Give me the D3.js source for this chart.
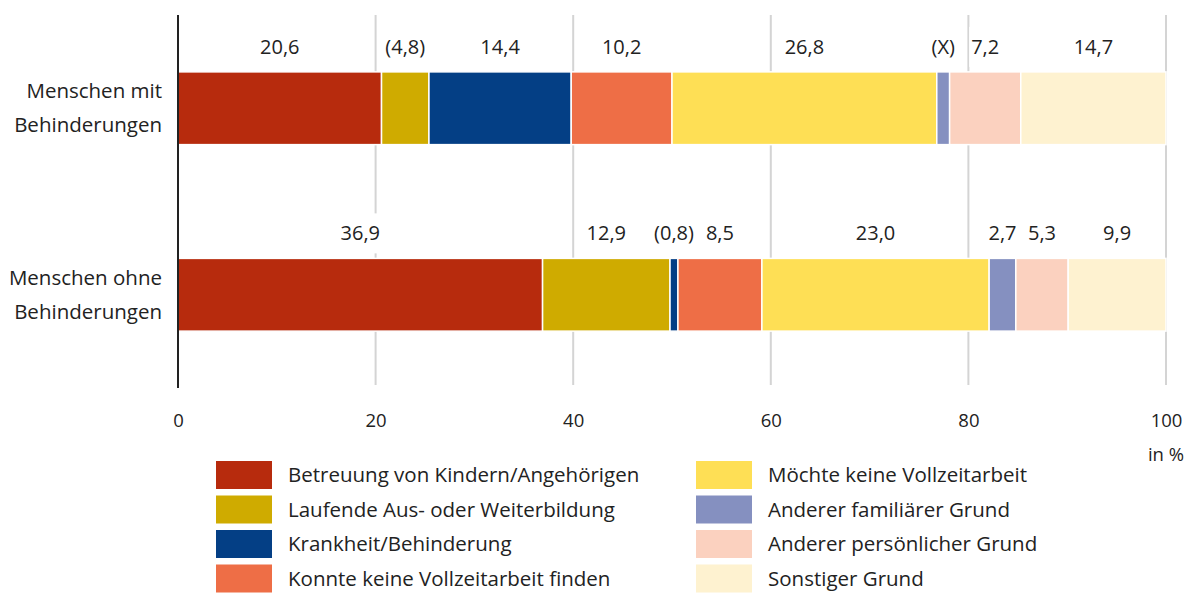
<!DOCTYPE html>
<html>
<head>
<meta charset="utf-8">
<script src="https://cdn.jsdelivr.net/npm/d3@7"></script>
<style>
  body { margin: 0; background: #fff; }
  svg text { font-family: "Open Sans", sans-serif; fill: #222; }
</style>
</head>
<body>
<svg id="chart" width="1187" height="593"></svg>
<script>
const groups = ["Menschen mit\nBehinderungen", "Menschen ohne\nBehinderungen"];
const categories = [
  "Betreuung von Kindern/Angehörigen",
  "Laufende Aus- oder Weiterbildung",
  "Krankheit/Behinderung",
  "Konnte keine Vollzeitarbeit finden",
  "Möchte keine Vollzeitarbeit",
  "Anderer familiärer Grund",
  "Anderer persönlicher Grund",
  "Sonstiger Grund",
];
const colors = ["#b72b0d", "#cfab00", "#043f85", "#ee6e46", "#fedf55", "#8590c0", "#fbd1bf", "#fef2d0"];

// values in %, second list holds the printed labels
const valuesMit = [20.6, 4.8, 14.4, 10.2, 26.8, 1.3, 7.2, 14.7];
const labelsMit = ["20,6", "(4,8)", "14,4", "10,2", "26,8", "(X)", "7,2", "14,7"];
const valuesOhne = [36.9, 12.9, 0.8, 8.5, 23.0, 2.7, 5.3, 9.9];
const labelsOhne = ["36,9", "12,9", "(0,8)", "8,5", "23,0", "2,7", "5,3", "9,9"];
const ticks = [0, 20, 40, 60, 80, 100];

const svg = d3.select("#chart");
const plotTop = 15, plotBottom = 388, plotLeft = 178, plotRight = 1166;

let x = d3.scaleLinear().domain([0, 100]).range([plotLeft, plotRight]);
let y = d3.scaleBand().domain(groups).range([plotTop, plotBottom]).paddingInner(0.61).paddingOuter(0.305);

// gridlines
svg.append("g").selectAll("line")
  .data(ticks.slice(1))
  .enter().append("line")
  .attr("x1", d => x(d)).attr("x2", d => x(d))
  .attr("y1", plotTop).attr("y2", 385)
  .attr("stroke", "#d4d4d4").attr("stroke-width", 2);

let rows = [
  { group: groups[0], values: valuesMit, labels: labelsMit },
  { group: groups[1], values: valuesOhne, labels: labelsOhne },
];

rows.forEach(function (r) {
  let start = 0;
  let segs = r.values.map(function (v, i) {
    let s = { x0: start, x1: start + v, label: r.labels[i], color: colors[i] };
    start += v;
    return s;
  });
  // last segment fills up to 100
  segs[segs.length - 1].x1 = 100;

  let g = svg.append("g");
  g.selectAll("rect")
    .data(segs)
    .enter().append("rect")
    .attr("x", d => x(d.x0))
    .attr("width", d => x(d.x1) - x(d.x0))
    .attr("y", y(r.group))
    .attr("height", y.bandwidth())
    .attr("fill", d => d.color)
    .attr("stroke", "#fff")
    .attr("stroke-width", 1.5);

  let ly = y(r.group) - 25;
  let lab = g.selectAll("g.lab")
    .data(segs)
    .enter().append("g")
    .attr("class", "lab")
    .attr("transform", d => `translate(${x((d.x0 + d.x1) / 2)},${ly})`);
  let txt = lab.append("text")
    .attr("text-anchor", "middle")
    .attr("dy", "0.35em")
    .attr("font-size", 20)
    .text(d => d.label);
  txt.each(function () {
    let b = this.getBBox();
    d3.select(this.parentNode).insert("rect", "text")
      .attr("x", b.x - 2).attr("width", b.width + 4)
      .attr("y", -20).attr("height", 40)
      .attr("fill", "#fff");
  });
});

// vertical axis line
svg.append("line")
  .attr("x1", plotLeft).attr("x2", plotLeft)
  .attr("y1", plotTop).attr("y2", plotBottom)
  .attr("stroke", "#222").attr("stroke-width", 2);

// group labels
groups.forEach(function (gname) {
  let lines = gname.split("\n");
  let cy = y(gname) + y.bandwidth() / 2;
  let t = svg.append("text")
    .attr("text-anchor", "end")
    .attr("font-size", 20.5)
    .attr("x", 162)
    .attr("y", cy - 10);
  lines.forEach(function (l, i) {
    t.append("tspan").attr("x", 162).attr("dy", i === 0 ? 0 : 34).text(l);
  });
});

// x axis
let xAxis = svg.append("g")
  .attr("transform", `translate(0,${plotBottom})`)
  .call(d3.axisBottom(x).tickValues(ticks).tickSize(0).tickPadding(26));
xAxis.select(".domain").remove();
xAxis.selectAll("text")
  .attr("font-size", 18.5)
  .attr("font-family", "Open Sans, sans-serif")
  .attr("fill", "#222");

svg.append("text")
  .attr("x", 1184).attr("y", 461)
  .attr("text-anchor", "end")
  .attr("font-size", 18.5)
  .text("in %");

// legend
let legend = svg.append("g");
let li = legend.selectAll("g")
  .data(categories)
  .enter().append("g")
  .attr("transform", (d, i) => `translate(${i < 4 ? 216 : 696},${461 + (i % 4) * 34.5})`);
li.append("rect")
  .attr("width", 56).attr("height", 28)
  .attr("fill", (d, i) => colors[i]);
li.append("text")
  .attr("x", 72).attr("y", 14).attr("dy", "0.35em")
  .attr("font-size", 20.5)
  .text(d => d);
</script>
</body>
</html>
